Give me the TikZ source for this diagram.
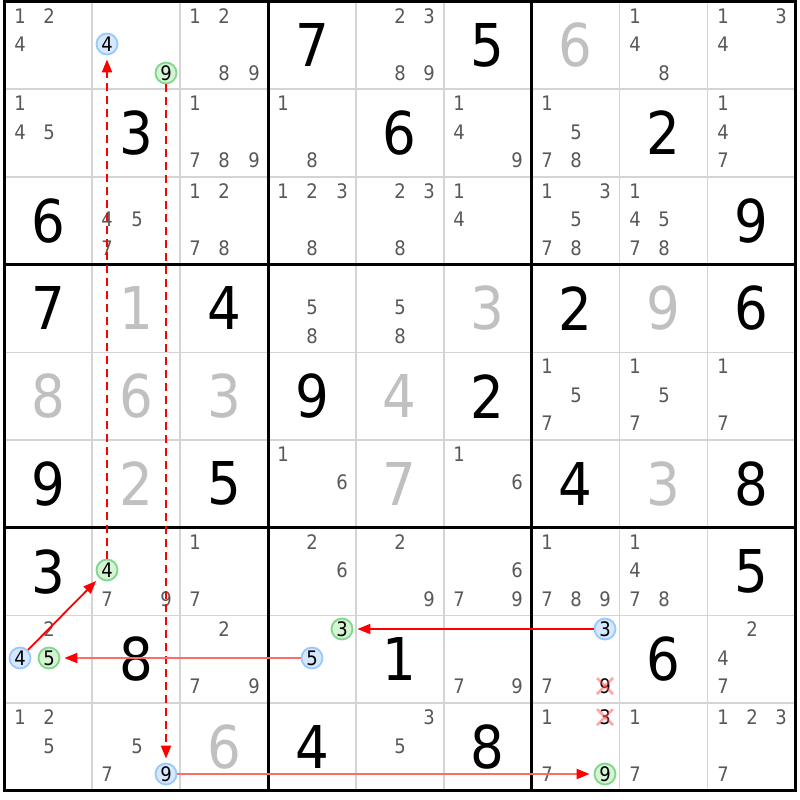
\documentclass[tikz,border=0pt]{standalone}
\usepackage{fontspec}
\setmainfont{DejaVu Sans Condensed}
\usetikzlibrary{arrows.meta}
\definecolor{candgray}{HTML}{585858}
\definecolor{solvedgray}{HTML}{C0C0C0}
\definecolor{gridgray}{HTML}{D4D4D4}
\definecolor{bfill}{HTML}{D6E8FF}
\definecolor{bline}{HTML}{99C8FF}
\definecolor{gfill}{HTML}{D4F4D4}
\definecolor{gline}{HTML}{7ED88A}
\definecolor{linkred}{HTML}{FF0000}
\definecolor{linkpink}{HTML}{FF6A6A}
\newcommand\setcandpos[3]{%
  \pgfmathsetmacro\candx{round(4.3+87.9*(#2-1)+15.2+29.2*mod(#3-1,3))}%
  \pgfmathsetmacro\candy{round(1.5+87.7*(#1-1)+14+28.5*floor((#3-1)/3))}}
\newcommand\setcellpos[2]{%
  \pgfmathsetmacro\cellx{4.3+87.9*(#2-0.5)}%
  \pgfmathsetmacro\celly{1.5+87.7*(#1-0.5)}}
\begin{document}
\begin{tikzpicture}[x=1pt,y=-1pt,
  given/.style={font=\fontsize{59}{59}\selectfont, inner sep=0pt, text=black},
  solved/.style={given, text=solvedgray},
  cand/.style={font=\fontsize{20}{20}\selectfont, inner sep=0pt, text=candgray},
  bcand/.style={cand, text=black, circle, draw=bline, fill=bfill, line width=1.8pt, minimum size=21pt},
  gcand/.style={bcand, draw=gline, fill=gfill},
  xcand/.style={cand, text=black},
  thingrid/.style={draw=gridgray, line width=1.5pt},
  thickgrid/.style={draw=black, line width=3pt},
  linktip/.style={-{Triangle[length=13pt,width=10pt,color=linkred]}, shorten >=4pt},
  dashlink/.style={linktip, draw=linkred, line width=2pt, dash pattern=on 8pt off 5pt},
  thinlink/.style={linktip, draw=linkred, line width=1.8pt},
  widelink/.style={linktip, draw=linkpink, line width=2pt},
  xmark/.style={draw=red!70, line width=2.5pt, opacity=0.5}
]
\useasboundingbox (0,0) rectangle (800,800);
\fill[white] (0,0) rectangle (800,800);
% grid
\foreach \k in {1,2,4,5,7,8} {
  \draw[thingrid] ({4.3+87.9*\k},1.5) -- ({4.3+87.9*\k},790.8);
  \draw[thingrid] (4.3,{1.5+87.7*\k}) -- (795.4,{1.5+87.7*\k});
}
\foreach \k in {0,3,6,9} {
  \draw[thickgrid] ({4.3+87.9*\k},0) -- ({4.3+87.9*\k},792.3);
  \draw[thickgrid] (2.8,{1.5+87.7*\k}) -- (796.9,{1.5+87.7*\k});
}
% givens
\foreach \r/\c/\d in {1/4/7,1/6/5,2/2/3,2/5/6,2/8/2,3/1/6,3/9/9,4/1/7,4/3/4,4/7/2,4/9/6,
  5/4/9,5/6/2,6/1/9,6/3/5,6/7/4,6/9/8,7/1/3,7/9/5,8/2/8,8/5/1,8/8/6,9/4/4,9/6/8} {
  \setcellpos{\r}{\c}
  \node[given] (v\r\c) at (\cellx,\celly) {\d};
}
% solved (gray)
\foreach \r/\c/\d in {1/7/6,4/2/1,4/6/3,4/8/9,5/1/8,5/2/6,5/3/3,5/5/4,6/2/2,6/5/7,6/8/3,9/3/6} {
  \setcellpos{\r}{\c}
  \node[solved] (s\r\c) at (\cellx,\celly) {\d};
}
% plain candidates
\foreach \r/\c/\ds in {1/1/{1,2,4},1/3/{1,2,8,9},1/5/{2,3,8,9},1/8/{1,4,8},1/9/{1,3,4},
  2/1/{1,4,5},2/3/{1,7,8,9},2/4/{1,8},2/6/{1,4,9},2/7/{1,5,7,8},2/9/{1,4,7},
  3/2/{4,5,7},3/3/{1,2,7,8},3/4/{1,2,3,8},3/5/{2,3,8},3/6/{1,4},3/7/{1,3,5,7,8},3/8/{1,4,5,7,8},
  4/4/{5,8},4/5/{5,8},5/7/{1,5,7},5/8/{1,5,7},5/9/{1,7},6/4/{1,6},6/6/{1,6},
  7/2/{7,9},7/3/{1,7},7/4/{2,6},7/5/{2,9},7/6/{6,7,9},7/7/{1,7,8,9},7/8/{1,4,7,8},
  8/1/{2},8/3/{2,7,9},8/6/{7,9},8/7/{7},8/9/{2,4,7},
  9/1/{1,2,5},9/2/{5,7},9/5/{3,5},9/7/{1,7},9/8/{1,7},9/9/{1,2,3,7}} {
  \foreach \d in \ds {
    \setcandpos{\r}{\c}{\d}
    \node[cand] (c\r\c\d) at (\candx,\candy) {\d};
  }
}
% eliminated candidates
\setcandpos{8}{7}{9}\node[xcand] (x879) at (\candx,\candy) {9};
\setcandpos{9}{7}{3}\node[xcand] (x973) at (\candx,\candy) {3};
\foreach \n in {x879,x973} {
  \draw[xmark] ([shift={(-8,-8)}]\n.center) -- ([shift={(8,8)}]\n.center);
  \draw[xmark] ([shift={(-8,8)}]\n.center) -- ([shift={(8,-8)}]\n.center);
}
% highlighted candidates
\setcandpos{1}{2}{4}\node[bcand] (b124) at (\candx,\candy) {4};
\setcandpos{8}{1}{4}\node[bcand] (b814) at (\candx,\candy) {4};
\setcandpos{8}{4}{5}\node[bcand] (b845) at (\candx,\candy) {5};
\setcandpos{8}{7}{3}\node[bcand] (b873) at (\candx,\candy) {3};
\setcandpos{9}{2}{9}\node[bcand] (b929) at (\candx,\candy) {9};
\setcandpos{1}{2}{9}\node[gcand] (g129) at (\candx,\candy) {9};
\setcandpos{7}{2}{4}\node[gcand] (g724) at (\candx,\candy) {4};
\setcandpos{8}{1}{5}\node[gcand] (g815) at (\candx,\candy) {5};
\setcandpos{8}{4}{3}\node[gcand] (g843) at (\candx,\candy) {3};
\setcandpos{9}{7}{9}\node[gcand] (g979) at (\candx,\candy) {9};
% links
\draw[dashlink] (g724) -- (b124);
\draw[dashlink] (g129) -- (b929);
\draw[thinlink] (b814) -- (g724);
\draw[widelink] (b845) -- (g815);
\draw[thinlink] (b873) -- (g843);
\draw[widelink] (b929) -- (g979);
\end{tikzpicture}
\end{document}
